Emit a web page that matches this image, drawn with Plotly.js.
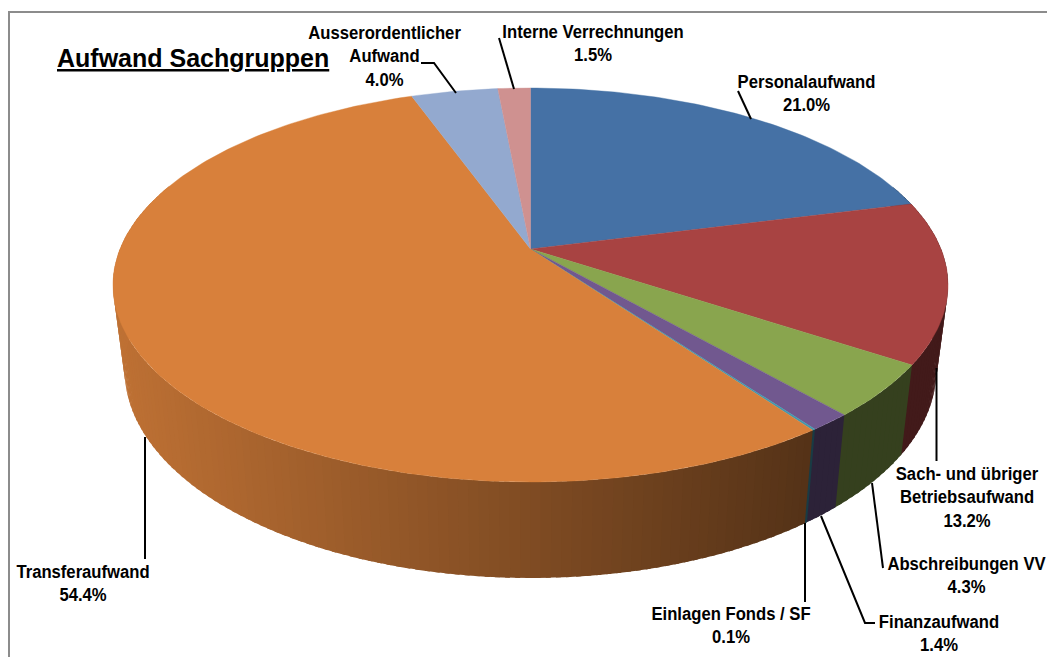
<!DOCTYPE html>
<html><head><meta charset="utf-8">
<script src="https://cdn.plot.ly/plotly-3.0.1.min.js"></script>
<style>html,body{margin:0;padding:0;background:#fff;overflow:hidden}</style>
</head><body><div id="chart" style="width:1047px;height:657px"></div>
<script>
// --- data, clockwise from 12 o'clock
const categories = ["Personalaufwand","Sach- und übriger<br>Betriebsaufwand","Abschreibungen VV","Finanzaufwand","Einlagen Fonds / SF","Transferaufwand","Ausserordentlicher<br>Aufwand","Interne Verrechnungen"];
const shares = [21.0,13.2,4.3,1.4,0.1,54.4,4.0,1.5];
const colours = ["#4571A5","#A84342","#89A54E","#71588F","#4198AF","#D8803B","#93A9CF","#CF9190"];
const chartTitle = "Aufwand Sachgruppen";

// --- label placement (page pixels): centre of the text block, then leader polyline
const labelCentres = [[806,93],[967,497],[966,575.5],[939,633],[731,625],[83,583.5],[384,56.5],[593,43]];
const leaders = [
  [[738,91],[751,119]],
  [[936.5,368],[936.5,461]],
  [[872,483],[883,568]],
  [[821,516],[865,623],[875,623]],
  [[805,523],[805,602]],
  [[145,437],[145,559]],
  [[421,63],[434,63],[456,93]],
  [[499,38],[514,89]]
];

// --- projection of the tilted disc onto the page
const CX=530.5, CY=249, A=410.5, B=190.4, P=0.1827;
function topPt(t){const u=Math.sin(t),v=-Math.cos(t),d=1-P*v;return [CX+A*u/d, CY+B*v/d];}
function bottomPt(t){const p=topPt(t);return [CX+(p[0]-CX)*0.972, 578+(p[1]-482)*1.055];}
function hexRgb(h){return [1,3,5].map(i=>parseInt(h.substr(i,2),16));}
function shade(hex,x){
  const f=Math.min(0.88,Math.max(0.39,0.88-(x-113)*0.49/700));
  const c=hexRgb(hex).map(v=>Math.round(v*f));
  return `rgb(${c[0]},${c[1]},${c[2]})`;
}

const total=shares.reduce((a,b)=>a+b,0);
const traces=[];
let cum=0;
const spans=shares.map(s=>{const a=cum/total*2*Math.PI;cum+=s;return [a,cum/total*2*Math.PI];});

// side wall, as narrow overlapping strips so that the shading runs along it without seams
const stepAngle=Math.PI/150;
spans.forEach((sp,i)=>{
  const n=Math.max(1,Math.ceil((sp[1]-sp[0])/stepAngle));
  for(let k=0;k<n;k++){
    const t1=sp[0]+(sp[1]-sp[0])*k/n, t2=sp[0]+(sp[1]-sp[0])*(k+1)/n+stepAngle*0.5;
    if(Math.cos((t1+t2)/2)>0.35) continue;
    const a=topPt(t1),b=topPt(t2),c=bottomPt(t2),d=bottomPt(t1);
    const col=shade(colours[i],(a[0]+b[0])/2);
    traces.push({type:"scatter",mode:"none",x:[a[0],b[0],c[0],d[0],a[0]],y:[a[1],b[1],c[1],d[1],a[1]],
      fill:"toself",fillcolor:col,hoverinfo:"skip",showlegend:false});
  }
});
// top surface
spans.forEach((sp,i)=>{
  const xs=[CX],ys=[CY];
  const n=Math.max(2,Math.ceil((sp[1]-sp[0])/(Math.PI/180)));
  for(let k=0;k<=n;k++){const p=topPt(sp[0]+(sp[1]-sp[0])*k/n);xs.push(p[0]);ys.push(p[1]);}
  xs.push(CX);ys.push(CY);
  traces.push({type:"scatter",mode:"lines",x:xs,y:ys,fill:"toself",fillcolor:colours[i],
    line:{color:colours[i],width:0.4},hoverinfo:"skip",showlegend:false});
});
// leader lines
leaders.forEach(l=>traces.push({type:"scatter",mode:"lines",x:l.map(p=>p[0]),y:l.map(p=>p[1]),
  line:{color:"#000",width:2},hoverinfo:"skip",showlegend:false}));

const labelFont={family:'"Liberation Sans",Arial,sans-serif',size:18,color:"#000"};
const annotations=categories.map((c,i)=>({x:labelCentres[i][0],y:labelCentres[i][1],xref:"x",yref:"y",
  text:"<b>"+c+"<br>"+shares[i].toFixed(1)+"%</b>",showarrow:false,xanchor:"center",yanchor:"middle",align:"center",font:labelFont}));
annotations.push({x:193,y:58,xref:"x",yref:"y",text:"<b><u>"+chartTitle+"</u></b>",showarrow:false,xanchor:"center",yanchor:"middle",
  font:{family:'"Liberation Sans",Arial,sans-serif',size:25,color:"#000"}});

const layout={width:1047,height:657,margin:{l:0,r:0,t:0,b:0},paper_bgcolor:"#fff",plot_bgcolor:"#fff",showlegend:false,
  xaxis:{range:[0,1047],visible:false,fixedrange:true},
  yaxis:{range:[657,0],visible:false,fixedrange:true},
  annotations:annotations,
  shapes:[
    {type:"line",xref:"x",yref:"y",x0:9,x1:9,y0:11,y1:657,line:{color:"#8c8c8c",width:2}},
    {type:"line",xref:"x",yref:"y",x0:8,x1:1047,y0:12,y1:12,line:{color:"#8c8c8c",width:2}}
  ]};
Plotly.newPlot("chart",traces,layout,{displayModeBar:false,staticPlot:true}).then(gd=>{
  // the labels in the reference are in a condensed face: squeeze them horizontally about their centre
  gd.querySelectorAll(".annotation-text").forEach(t=>{
    if(t.textContent.indexOf(chartTitle)>=0) return;
    const b=t.getBBox(), cx=b.x+b.width/2;
    t.setAttribute("transform",`translate(${cx},0) scale(0.926,1) translate(${-cx},0)`);
  });
});
</script></body></html>
